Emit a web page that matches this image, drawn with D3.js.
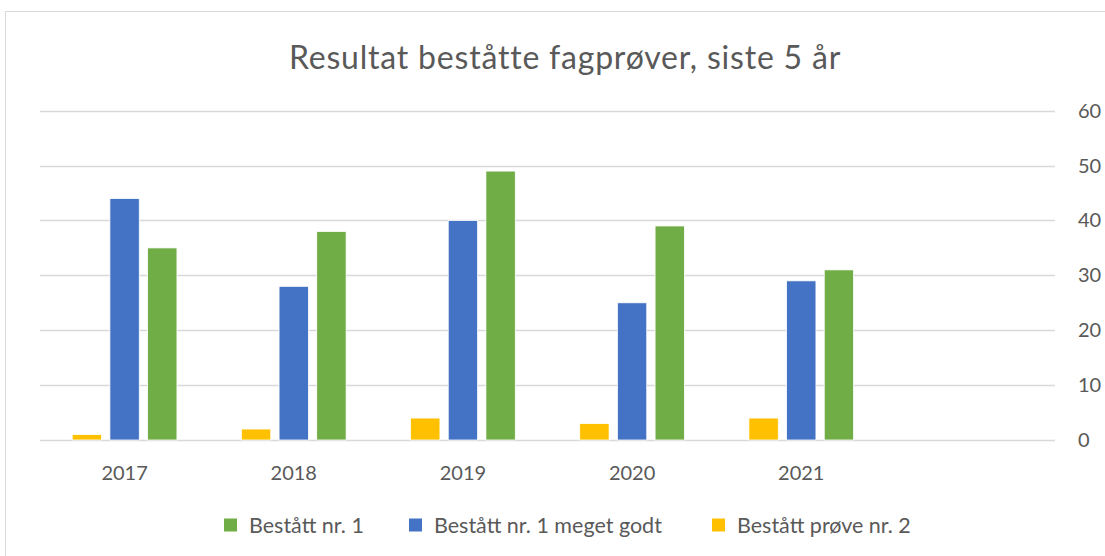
<!DOCTYPE html>
<html>
<head>
<meta charset="utf-8">
<script src="https://cdn.jsdelivr.net/npm/d3@7"></script>
<style>
  body { margin: 0; background: #fff; }
  text { font-family: Lato, "Open Sans", sans-serif; fill: #595959; }
</style>
</head>
<body>
<div id="chart"></div>
<script>
// Data
const years = ["2017", "2018", "2019", "2020", "2021", ""];
const seriesNames = ["Bestått prøve nr. 2", "Bestått nr. 1 meget godt", "Bestått nr. 1"];
const provNr2 = [1, 2, 4, 3, 4];
const megetGodt = [44, 28, 40, 25, 29];
const nr1 = [35, 38, 49, 39, 31];
const yTicks = [0, 10, 20, 30, 40, 50, 60];
const legendOrder = ["Bestått nr. 1", "Bestått nr. 1 meget godt", "Bestått prøve nr. 2"];

const W = 1105, H = 556;
const plot = {left: 40, right: 1055, top: 110.7, bottom: 440};

const svg = d3.select("#chart")
  .append("svg")
    .attr("width", W)
    .attr("height", H);

// chart frame
svg.append("rect")
  .attr("x", 5.5).attr("y", 11.5)
  .attr("width", W + 10).attr("height", H + 10)
  .attr("fill", "none")
  .attr("stroke", "#d9d9d9");

// Title
svg.append("text")
  .attr("x", 565).attr("y", 69)
  .attr("text-anchor", "middle")
  .style("font-size", "32px")
  .style("letter-spacing", "0.8px")
  .text("Resultat beståtte fagprøver, siste 5 år");

const x = d3.scaleBand()
  .domain(years.map((d, i) => i))
  .range([plot.left, plot.right]);

const xInner = d3.scaleBand()
  .domain(seriesNames)
  .range([0, x.bandwidth()])
  .paddingInner(0.22)
  .paddingOuter(0.855);

const y = d3.scaleLinear()
  .domain([0, 60])
  .range([plot.bottom, plot.top]);

const color = d3.scaleOrdinal()
  .domain(seriesNames)
  .range(["#ffc000", "#4472c4", "#70ad47"]);

// gridlines
svg.append("g")
  .selectAll("line")
  .data(yTicks)
  .join("line")
    .attr("x1", plot.left).attr("x2", plot.right)
    .attr("y1", d => Math.round(y(d)) + 0.5)
    .attr("y2", d => Math.round(y(d)) + 0.5)
    .attr("stroke", "#d9d9d9")
    .attr("stroke-width", 1.3);

// right axis labels
svg.append("g")
  .selectAll("text")
  .data(yTicks)
  .join("text")
    .attr("x", 1078)
    .attr("y", d => y(d))
    .attr("dy", "0.35em")
    .style("font-size", "20px")
    .text(d => d);

// bars
const rows = years.slice(0, 5).map((yr, i) => ({
  i: i,
  vals: [provNr2[i], megetGodt[i], nr1[i]]
}));

const groups = svg.append("g")
  .selectAll("g")
  .data(rows)
  .join("g")
    .attr("transform", d => `translate(${x(d.i)},0)`);

groups.selectAll("rect")
  .data(d => d.vals.map((v, k) => ({name: seriesNames[k], v: v})))
  .join("rect")
    .attr("x", d => xInner(d.name))
    .attr("width", xInner.bandwidth())
    .attr("y", d => y(d.v))
    .attr("height", d => y(0) - y(d.v))
    .attr("fill", d => color(d.name))
    .attr("stroke", "#fff")
    .attr("stroke-width", 0.8);

// category labels
svg.append("g")
  .selectAll("text")
  .data(years)
  .join("text")
    .attr("x", (d, i) => x(i) + x.bandwidth() / 2)
    .attr("y", 480)
    .attr("text-anchor", "middle")
    .style("font-size", "20px")
    .text(d => d);

// legend
const legendX = [224, 409, 712];
const legend = svg.append("g")
  .selectAll("g")
  .data(legendOrder)
  .join("g")
    .attr("transform", (d, i) => `translate(${legendX[i]},533)`);

legend.append("rect")
  .attr("x", 0).attr("y", -14.5)
  .attr("width", 13).attr("height", 13)
  .attr("fill", d => color(d));

legend.append("text")
  .attr("x", 25).attr("y", 0)
  .style("font-size", "21.5px")
  .text(d => d);
</script>
</body>
</html>
